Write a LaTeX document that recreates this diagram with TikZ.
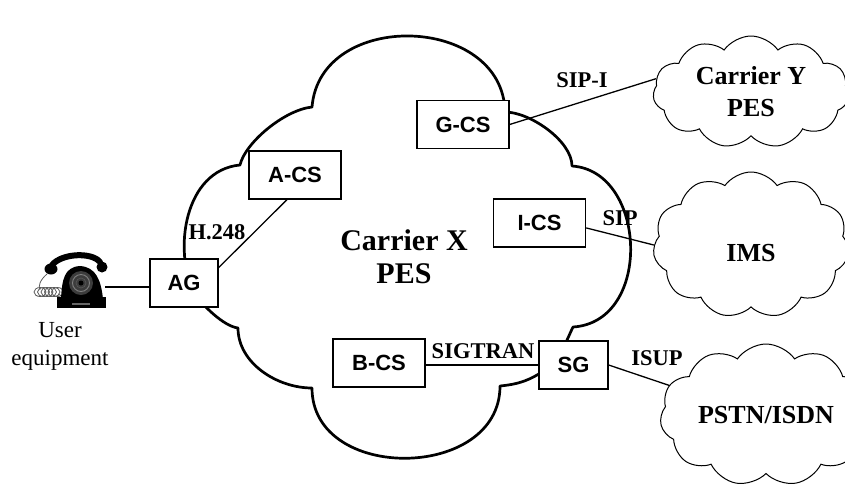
\documentclass[tikz,border=0pt]{standalone}
\usepackage{fontspec}
\setmainfont{Liberation Serif}
\setsansfont{Liberation Sans}
\usepackage{xcolor}
\usetikzlibrary{shapes.symbols,positioning}
\definecolor{ink}{HTML}{000000}
\definecolor{cordgray}{HTML}{5A5A5A}
\definecolor{dialgray}{HTML}{3C3C3C}
\tikzset{
  netbox/.style={
    draw=ink,
    line width=1.3pt,
    fill=white,
    text=ink,
    font=\sffamily\bfseries\fontsize{22}{24}\selectfont,
    minimum width=92pt,
    minimum height=48pt,
    inner sep=0pt
  },
  gwbox/.style={netbox, minimum width=68pt},
  proto/.style={font=\bfseries\fontsize{22.5}{24}\selectfont, text=ink, inner sep=0pt},
  peercloud/.style={
    cloud,
    draw=ink,
    line width=1pt,
    fill=white,
    cloud puffs=11,
    cloud puff arc=110,
    cloud ignores aspect,
    inner sep=0pt,
    align=center,
    text=ink,
    font=\bfseries\fontsize{26}{32}\selectfont
  },
  pesline/.style={draw=ink, line width=2.7pt, line join=round},
  link/.style={draw=ink, line width=1.3pt}
}

\begin{document}
\begin{tikzpicture}[x=1pt, y=-1pt]
  \useasboundingbox (0,0) rectangle (845,483);

  % carrier X packet exchange cloud
  \draw[pesline] (312,107)
    .. controls +(8,-98) and +(-2,-98) .. (505,112)
    .. controls +(25,0) and +(0,-25) .. (572,166)
    .. controls +(75,5) and +(80,-5) .. (573,327)
    .. controls +(-5,10) and +(15,-10) .. (545,370)
    .. controls +(-15,10) and +(20,-2) .. (500,386)
    .. controls +(0,95) and +(0,95) .. (312,388)
    .. controls +(-35,0) and +(0,35) .. (238,328)
    .. controls +(-15,-2) and +(8,10) .. (195,295)
    .. controls +(-23,-45) and +(-55,5) .. (240,165)
    .. controls +(5,-22) and +(-28,3) .. (312,107) -- cycle;
  \node[font=\bfseries\fontsize{30}{33}\selectfont, align=center, inner sep=0pt] (pesx) at (404,257) {Carrier X\\PES};

  % telephone set
  \draw[cordgray, line width=0.8pt] (47,274) .. controls (40,280) and (38,286) .. (40,290);
  \foreach \k in {0,...,5}
    \draw[cordgray, line width=0.8pt] (40+3.5*\k,292) ellipse (6 and 4.5);
  \draw[cordgray, line width=0.8pt] (58,294) -- (62,296);
  \fill[ink] (57,297) -- (106,297) -- (106,308) -- (57,308) -- cycle;
  \fill[ink] (61,299) .. controls (62,280) and (64,267) .. (80,266) .. controls (96,267) and (101,280) .. (103,299) -- cycle;
  \fill[dialgray] (81,283) circle (12);
  \draw[white!50!black, line width=0.9pt] (81,283) circle (8.5);
  \draw[white!35!black, line width=0.6pt] (81,283) circle (5);
  \fill[ink] (81,283) circle (2.5);
  \fill[white!40!black] (72,303) rectangle (90,305);
  \draw[ink, line width=6pt, line cap=round] (52,265) .. controls (62,253) and (92,252) .. (100,262);
  \fill[ink] (51,269) ellipse (6.5 and 5.5);
  \fill[ink] (102,267) ellipse (5.5 and 5.5);
  \coordinate (jack) at (105,287);
  \node[font=\fontsize{23}{28}\selectfont, align=center, inner sep=0pt] (ue) at (60,346) {User\\equipment};

  \node[gwbox] (ag) at (184,283) {AG};
  \node[netbox] (acs) at (295,175) {A-CS};
  \node[netbox] (gcs) at (463,124.5) {G-CS};
  \node[netbox] (ics) at (539.5,223) {I-CS};
  \node[netbox] (bcs) at (379,363) {B-CS};
  \node[gwbox, minimum width=69pt] (sg) at (573.5,365) {SG};

  \node[peercloud, minimum width=196pt, minimum height=112pt] (cloudy) at (751,92) {Carrier Y\\PES};
  \node[peercloud, minimum width=196pt, minimum height=146pt, text height=34pt] (ims) at (751,245) {IMS};
  \node[peercloud, minimum width=212pt, minimum height=142pt] (pstn) at (766,415) {PSTN/ISDN};

  \draw[link] (jack) -- (jack -| ag.west);
  \draw[link] (ag.24) -- (acs.-108);
  \draw[link] (gcs.east) -- (cloudy.172);
  \draw[link] (ics.-6) -- (ims.west);
  \draw[link] (sg.west) -- (sg.west -| bcs.east);
  \draw[link] (sg.east) -- (pstn.163);

  \node[proto] (h248) at (217,232) {H.248};
  \node[proto] (sipi) at (582,80) {SIP-I};
  \node[proto] (sip) at (620,218) {SIP};
  \node[proto] (sigtran) at (483,351) {SIGTRAN};
  \node[proto] (isup) at (657,358) {ISUP};
\end{tikzpicture}
\end{document}
